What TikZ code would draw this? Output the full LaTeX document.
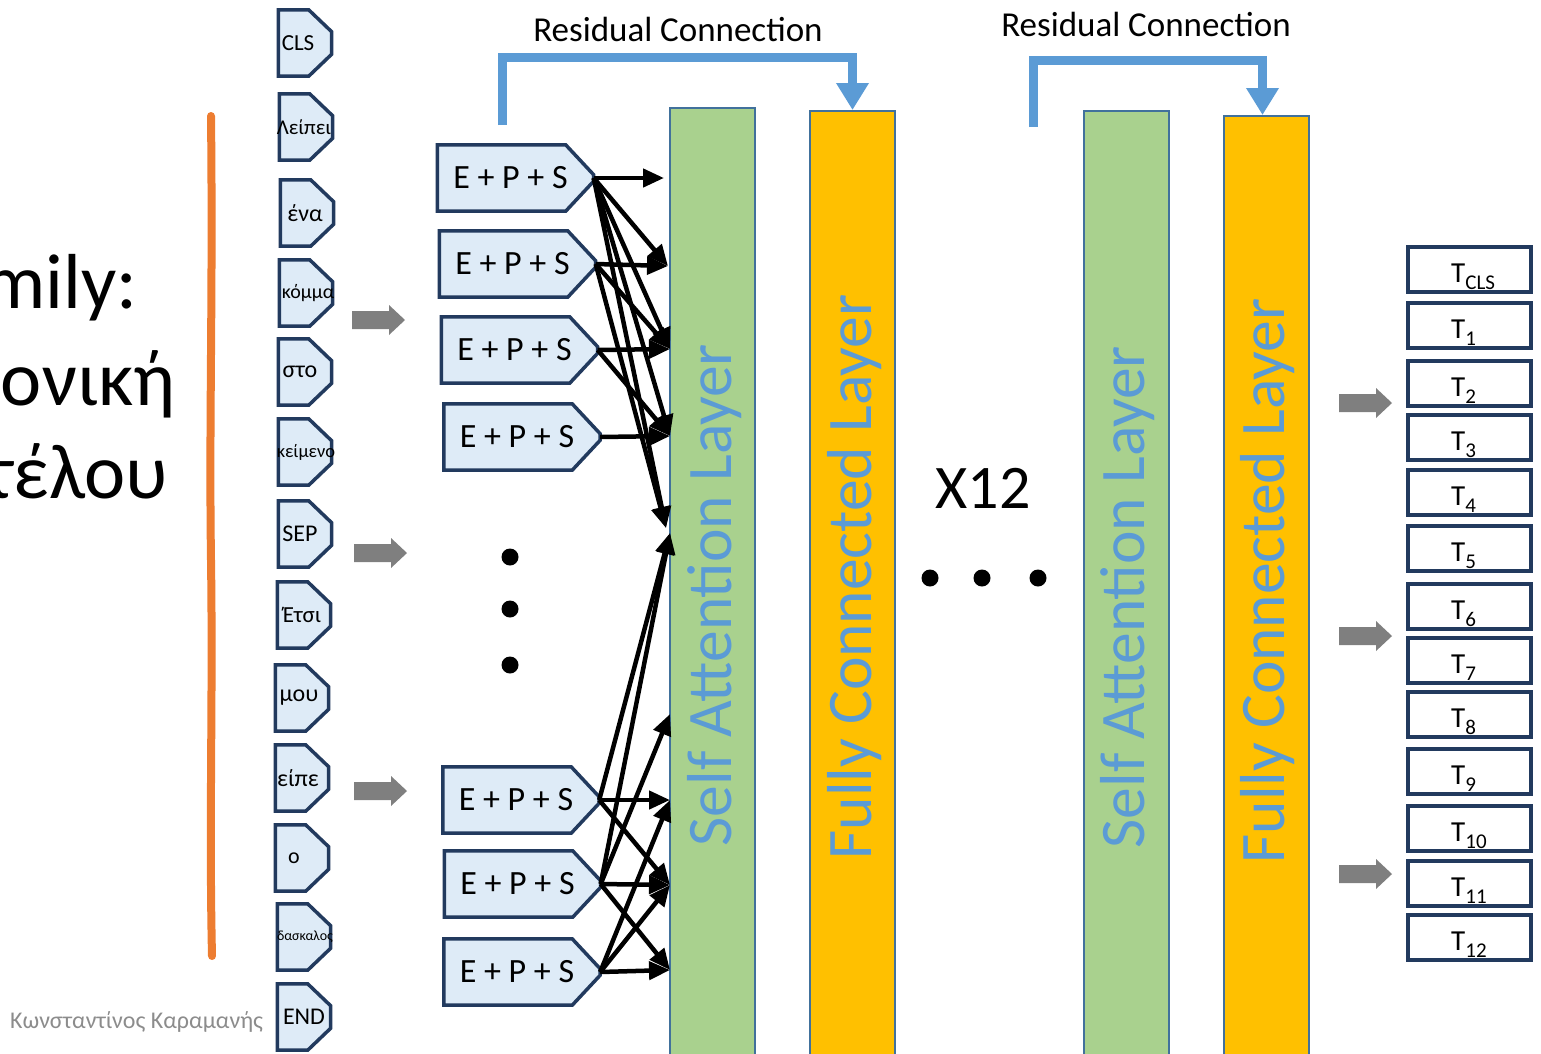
\documentclass[tikz,border=0pt]{standalone}
\usepackage{fontspec}
\setmainfont{Carlito}
\usetikzlibrary{arrows.meta}

\definecolor{tokfill}{HTML}{DEEBF7}
\definecolor{navy}{HTML}{223A5E}
\definecolor{sagreen}{HTML}{A9D18E}
\definecolor{fcyellow}{HTML}{FFC000}
\definecolor{barline}{HTML}{41719C}
\definecolor{lblue}{HTML}{5B9BD5}
\definecolor{orng}{HTML}{ED7D31}
\definecolor{blockgray}{HTML}{7F7F7F}
\definecolor{footgray}{HTML}{8C8C8C}

\newcommand\setfs[1]{\fontsize{#1}{#1}\selectfont}
\newcommand\tsub[1]{\raisebox{-7pt}{\setfs{21}#1}}
% grey block arrow pointing right, tail at (#1,#2)
\newcommand\blockarrow[2]{%
  \fill[blockgray] (#1,#2) +(0,-9) -- +(37,-9) -- +(37,-15) -- +(53,0)
    -- +(37,15) -- +(37,9) -- +(0,9) -- cycle;}
% outline of a box whose right side is cut off at both corners:
% #1 node name, #2 horizontal cut, #3 vertical cut
\newcommand\cutbox[3]{%
  \filldraw[draw=navy, fill=tokfill, line width=3.5pt, line join=miter]
    (#1.north west) -- ([xshift=-#2pt]#1.north east) -- ([yshift=-#3pt]#1.north east)
    -- ([yshift=#3pt]#1.south east) -- ([xshift=-#2pt]#1.south east)
    -- (#1.south west) -- cycle;}

\tikzset{
  tokframe/.style={minimum width=53pt, minimum height=66pt, inner sep=0pt},
  embframe/.style={minimum width=156pt, minimum height=66pt, inner sep=0pt, font=\setfs{34}},
  att/.style={-{Triangle[length=21pt,width=18pt]}, line width=4.5pt, black},
  layerbar/.style={draw=barline, line width=1.5pt, minimum width=85pt, minimum height=960pt,
    anchor=north, inner sep=0pt},
  bartext/.style={rotate=90, text=lblue, font=\setfs{63.5}, inner sep=0pt},
  resid/.style={draw=lblue, line width=9pt, line join=miter, -{Triangle[length=27pt,width=31pt]}},
  tbox/.style={draw=navy, line width=4pt, fill=white, minimum width=123pt, minimum height=45pt,
    inner sep=0pt},
  tlabel/.style={anchor=base west, inner sep=0pt, font=\setfs{29}},
  dot/.style={circle, fill=black, minimum size=17pt, inner sep=0pt},
}

\begin{document}
\begin{tikzpicture}[x=1pt,y=-1pt]
\useasboundingbox (0,0) rectangle (1541,1053);
\clip (0,0) rectangle (1541,1053);

% heading text running off the left edge
\node[anchor=base east, inner sep=0pt, font=\setfs{78}] (h1) at (138,308) {mily:};
\node[anchor=base east, inner sep=0pt, font=\setfs{78}] (h2) at (176,405) {ονική};
\node[anchor=base east, inner sep=0pt, font=\setfs{78}] (h3) at (168,498) {τέλου};

% orange brace line
\draw[orng, line width=8pt, line cap=round]
  (211,116) .. controls (213,300) and (209,420) .. (211,560)
  .. controls (213,700) and (209,820) .. (212,956);

% input tokens
\foreach \cy/\bx/\tx/\txt/\fsz [count=\i] in {
   43/305/298/CLS/23,
  127/306/304/Λείπει/21,
  213/307/305/ένα/24,
  293/306/308/κόμμα/20,
  372/305/300/στο/24,
  452/305/306/κείμενο/18.5,
  534/305/300/SEP/24,
  615/304/302/Έτσι/23,
  698/302/299/μου/24,
  778/302/298/είπε/24,
  858/302/294/ο/22,
  937/304/305/δασκαλος/14,
 1017/304/304/END/24}{
  \node[tokframe] (k\i) at (\bx,\cy) {};
  \cutbox{k\i}{23}{22}
  \node[inner sep=0pt, font=\fontsize{\fsz}{\fsz}\selectfont] (k\i t) at (\tx,\cy) {\txt};
}

% grey block arrows
\blockarrow{352}{320}
\blockarrow{354}{553}
\blockarrow{354}{791}
\blockarrow{1339}{403}
\blockarrow{1339}{636}
\blockarrow{1339}{874}

% layer bars
\node[layerbar, fill=sagreen]  (sa1) at (712.5,107) {};
\node[layerbar, fill=fcyellow] (fc1) at (852.5,110) {};
\node[layerbar, fill=sagreen]  (sa2) at (1126.5,110) {};
\node[layerbar, fill=fcyellow] (fc2) at (1266.5,115) {};
\node[bartext] (sa1t) at (715,595)  {Self Attention Layer};
\node[bartext] (fc1t) at (855,577)  {Fully Connected Layer};
\node[bartext] (sa2t) at (1128,597) {Self Attention Layer};
\node[bartext] (fc2t) at (1268,581) {Fully Connected Layer};

% residual connections
\node[inner sep=0pt, font=\setfs{35}] (rl1) at (678,29) {Residual Connection};
\node[inner sep=0pt, font=\setfs{35}] (rl2) at (1146,24) {Residual Connection};
\coordinate (r1) at (502.5,125);
\coordinate (r2) at (1033,127);
\draw[resid] (r1) -- (502.5,57.5) -| (fc1.north);
\draw[resid] (r2) -- (1033,60) -| ([xshift=-4pt]fc2.north);

% embedding boxes
\foreach \nm/\cx/\cy in {e1/515.5/178, e2/517.5/264, e3/519.5/350, e4/522/437,
                         e5/521/800, e6/522.5/884, e7/522/972}{
  \node[embframe] (\nm) at (\cx,\cy) {};
  \cutbox{\nm}{28}{30}
  \node[inner sep=0pt, font=\setfs{34}] (\nm t) at (\cx-5,\cy) {E + P + S};
}

% attention targets on the first layer
\coordinate (a1) at (664,178);
\coordinate (a2) at (668,266);
\coordinate (a3) at (670,349);
\coordinate (a4) at (670,436);
\coordinate (a5) at (666,528);
\coordinate (b1) at (670,533);
\coordinate (b2) at (670,714);
\coordinate (b3) at (670,800);
\coordinate (b4) at (670,885);
\coordinate (b5) at (670,970);

\foreach \s/\t in {e1/a1,e1/a2,e1/a3,e1/a4,e1/a5,e2/a2,e2/a3,e2/a5,e3/a3,e3/a4,e4/a4,
                   e5/b3,e5/b4,e5/b1,e6/b4,e6/b5,e6/b1,e6/b2,e7/b5,e7/b4,e7/b3}
  \draw[att] (\s.east) -- (\t);

% ellipses
\node[dot] (v1) at (510,557) {};
\node[dot] (v2) at (510,609) {};
\node[dot] (v3) at (510,665) {};
\node[dot] (d1) at (930,578) {};
\node[dot] (d2) at (982,578) {};
\node[dot] (d3) at (1038,578) {};
\node[inner sep=0pt, font=\setfs{62}] (rep) at (983,488) {X12};

% output tokens
\foreach \cy/\s [count=\i] in {269.5/CLS,325/1,383/2,437.5/3,492.5/4,548.5/5,606/6,
                               660.5/7,714.5/8,771/9,828.5/10,883/11,937/12}{
  \node[tbox] (T\i) at (1469.5,\cy) {};
  \node[tlabel] (T\i l) at (1451,\cy+13) {T\tsub{\s}};
}

% footer
\node[anchor=base west, inner sep=0pt, text=footgray, font=\setfs{24}] (foot) at (10,1028)
  {Κωνσταντίνος Καραμανής};
\end{tikzpicture}
\end{document}
